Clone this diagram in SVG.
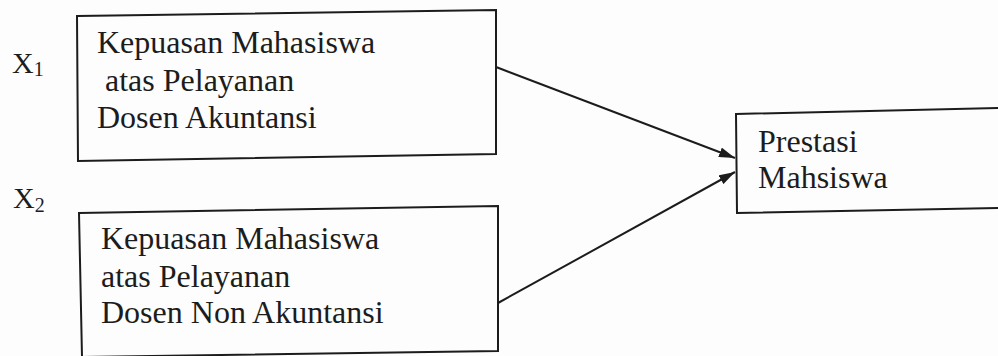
<svg xmlns="http://www.w3.org/2000/svg" width="998" height="356" viewBox="0 0 998 356">
<style>
.box{fill:none;stroke:#1c1c1c;stroke-width:2}
.t{font-family:"Liberation Serif","Times New Roman",serif;font-size:32px;fill:#1c1c1c}
.lbl{font-family:"Liberation Serif","Times New Roman",serif;font-size:30px;fill:#1c1c1c}
.sub{font-size:20px}
.edge{stroke:#1c1c1c;stroke-width:2;fill:none}
</style>
<defs>
<marker id="ah" viewBox="0 0 16 10" refX="16" refY="5" markerWidth="16" markerHeight="10" markerUnits="userSpaceOnUse" orient="auto">
<path d="M0,0 L16,5 L0,10 Z" fill="#1c1c1c"/>
</marker>
</defs>
<rect width="998" height="356" fill="#fdfdfd"/>
<g id="label-x1">
<text class="lbl" x="12" y="73">X<tspan class="sub" dy="3">1</tspan></text>
</g>
<g id="label-x2">
<text class="lbl" x="13" y="208">X<tspan class="sub" dy="4">2</tspan></text>
</g>
<g id="node-x1">
<polygon class="box" points="77,16 496,10 496,154 78,161"/>
<text class="t" x="97" y="53">Kepuasan Mahasiswa</text>
<text class="t" x="105" y="91">atas Pelayanan</text>
<text class="t" x="97" y="128">Dosen Akuntansi</text>
</g>
<g id="node-x2">
<polygon class="box" points="79,213 498,206 498,351 82,357"/>
<text class="t" x="101" y="249">Kepuasan Mahasiswa</text>
<text class="t" x="101" y="287">atas Pelayanan</text>
<text class="t" x="101" y="323">Dosen Non Akuntansi</text>
</g>
<g id="node-y">
<polygon class="box" points="736,114 1000,108 1000,208 737,213"/>
<text class="t" x="758" y="152">Prestasi</text>
<text class="t" x="758" y="188">Mahsiswa</text>
</g>
<g id="connectors">
<line class="edge" x1="496" y1="67" x2="735" y2="158" marker-end="url(#ah)"/>
<line class="edge" x1="498" y1="303" x2="735" y2="172" marker-end="url(#ah)"/>
</g>
</svg>
